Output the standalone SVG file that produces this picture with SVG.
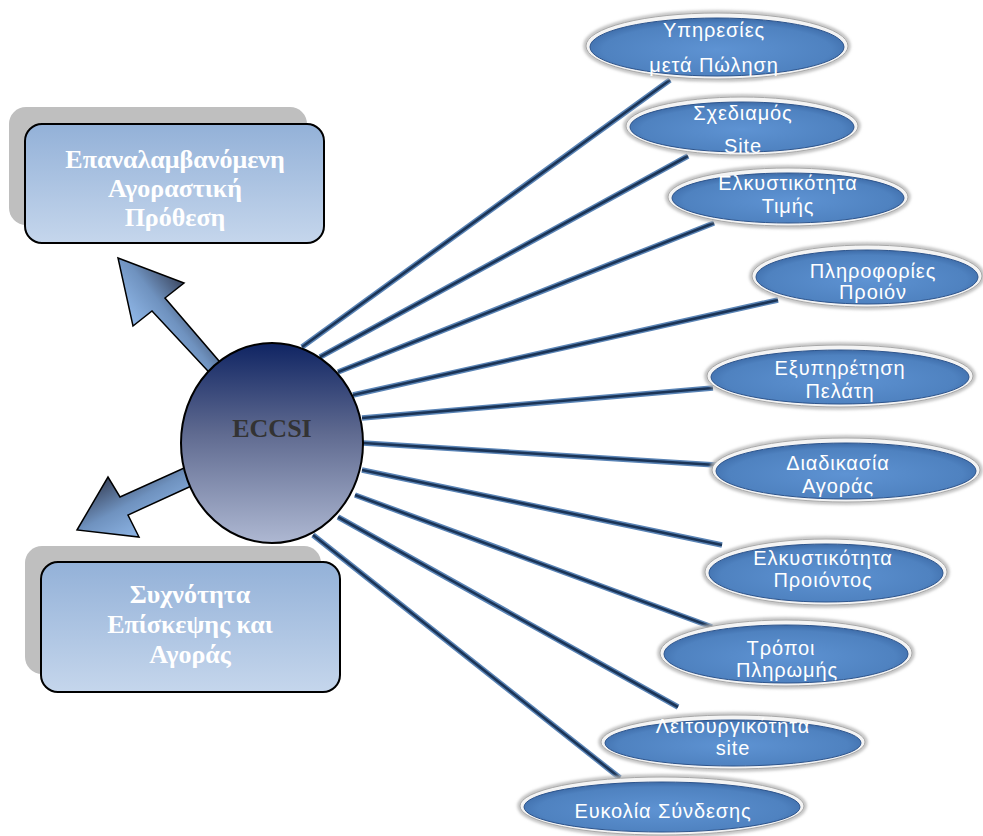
<svg xmlns="http://www.w3.org/2000/svg" width="983" height="836" viewBox="0 0 983 836">
  <defs>
    <linearGradient id="boxFill" x1="0" y1="0" x2="0" y2="1">
      <stop offset="0" stop-color="#93b1d8"/>
      <stop offset="1" stop-color="#c5d6ec"/>
    </linearGradient>
    <linearGradient id="hubFill" x1="0" y1="0" x2="0" y2="1">
      <stop offset="0" stop-color="#0f2463"/>
      <stop offset="0.45" stop-color="#5f6a90"/>
      <stop offset="1" stop-color="#aeb8d2"/>
    </linearGradient>
    <linearGradient id="arrowUp" gradientUnits="userSpaceOnUse" x1="135" y1="322" x2="184" y2="283">
      <stop offset="0" stop-color="#8db4e4"/>
      <stop offset="0.5" stop-color="#6f92bf"/>
      <stop offset="1" stop-color="#3c4862"/>
    </linearGradient>
    <linearGradient id="arrowDown" gradientUnits="userSpaceOnUse" x1="108" y1="478" x2="139" y2="536">
      <stop offset="0" stop-color="#3c4862"/>
      <stop offset="0.5" stop-color="#6f92bf"/>
      <stop offset="1" stop-color="#8db4e4"/>
    </linearGradient>
    <radialGradient id="pillFill" cx="0.5" cy="0.55" r="0.6">
      <stop offset="0" stop-color="#5e93d3"/>
      <stop offset="0.75" stop-color="#4f82c0"/>
      <stop offset="1" stop-color="#34609c"/>
    </radialGradient>
    <filter id="soft" x="-10%" y="-20%" width="120%" height="140%">
      <feGaussianBlur stdDeviation="1.5"/>
    </filter>
    <filter id="lineBlur" x="-5%" y="-5%" width="110%" height="110%">
      <feGaussianBlur stdDeviation="0.6"/>
    </filter>
    <style>
      .shadow { fill: #bfbfbf; }
      .box { fill: url(#boxFill); stroke: #000; stroke-width: 2; }
      .boxText { font-family: "Liberation Serif", "Times New Roman", serif; font-weight: bold; font-size: 26px; fill: #ffffff; text-anchor: middle; }
      .hubText { font-family: "Liberation Serif", "Times New Roman", serif; font-weight: bold; font-size: 26px; fill: #333333; text-anchor: middle; }
      .arrow { stroke: #000; stroke-width: 1.5; stroke-linejoin: miter; }
      .halo { fill: none; stroke: #b5b5b5; stroke-width: 3; filter: url(#soft); }
      .rim { fill: #f4f4f4; stroke: #a8a8a8; stroke-width: 1; }
      .pill { fill: url(#pillFill); stroke: #2d548c; stroke-width: 1; }
      .pillText { font-family: "Liberation Sans", Arial, sans-serif; font-size: 20px; fill: #ffffff; text-anchor: middle; letter-spacing: 0.9px; }
      .spokeOuter { stroke: #5a84b6; stroke-width: 5.5; stroke-linecap: butt; filter: url(#lineBlur); }
      .spokeInner { stroke: #1b3456; stroke-width: 2.6; stroke-linecap: butt; }
    </style>
  </defs>

  <rect width="983" height="836" fill="#ffffff"/>

  <!-- spokes from the hub to each factor -->
  <g id="connectors">
    <g class="spokeOuter">
      <line x1="302" y1="347" x2="670" y2="80"/>
      <line x1="320" y1="357" x2="688" y2="156"/>
      <line x1="338" y1="372" x2="714" y2="223"/>
      <line x1="353" y1="395" x2="778" y2="300"/>
      <line x1="362" y1="418" x2="713" y2="388"/>
      <line x1="363" y1="443" x2="716" y2="465"/>
      <line x1="362" y1="470" x2="722" y2="545"/>
      <line x1="355" y1="495" x2="712" y2="627"/>
      <line x1="338" y1="517" x2="678" y2="707"/>
      <line x1="313" y1="535" x2="620" y2="778"/>
    </g>
    <g class="spokeInner">
      <line x1="302" y1="347" x2="670" y2="80"/>
      <line x1="320" y1="357" x2="688" y2="156"/>
      <line x1="338" y1="372" x2="714" y2="223"/>
      <line x1="353" y1="395" x2="778" y2="300"/>
      <line x1="362" y1="418" x2="713" y2="388"/>
      <line x1="363" y1="443" x2="716" y2="465"/>
      <line x1="362" y1="470" x2="722" y2="545"/>
      <line x1="355" y1="495" x2="712" y2="627"/>
      <line x1="338" y1="517" x2="678" y2="707"/>
      <line x1="313" y1="535" x2="620" y2="778"/>
    </g>
  </g>

  <!-- outcome boxes -->
  <g id="intent">
    <rect class="shadow" x="9" y="107" width="298" height="118" rx="17"/>
    <rect class="box" x="25" y="124" width="299" height="119" rx="17"/>
    <text class="boxText" x="175" y="168">Επαναλαμβανόμενη</text>
    <text class="boxText" x="175" y="197">Αγοραστική</text>
    <text class="boxText" x="175" y="226">Πρόθεση</text>
  </g>

  <g id="frequency">
    <rect class="shadow" x="25" y="546" width="296" height="128" rx="17"/>
    <rect class="box" x="41" y="562" width="299" height="130" rx="17"/>
    <text class="boxText" x="190" y="603">Συχνότητα</text>
    <text class="boxText" x="190" y="633">Επίσκεψης και</text>
    <text class="boxText" x="190" y="663">Αγοράς</text>
  </g>

  <!-- block arrows from the hub -->
  <g id="arrow-intent">
    <polygon class="arrow" fill="url(#arrowUp)" points="118,258 184,283 165,298 231,375 220,384 152,311 133,326"/>
  </g>
  <g id="arrow-frequency">
    <polygon class="arrow" fill="url(#arrowDown)" points="77,530 108,477 120,497 204,459 211,477 128,515 139,537"/>
  </g>

  <!-- hub -->
  <g id="eccsi">
    <ellipse cx="272" cy="443" rx="91" ry="100" fill="url(#hubFill)" stroke="#000" stroke-width="2"/>
    <text class="hubText" x="272" y="437">ECCSI</text>
  </g>

  <!-- factor nodes -->
  <g id="after-sales">
    <ellipse class="halo" cx="717" cy="46" rx="132" ry="34"/>
    <ellipse class="rim" cx="717" cy="46" rx="131" ry="33"/>
    <ellipse class="pill" cx="717" cy="47" rx="127" ry="29"/>
    <text class="pillText" x="714" y="37">Υπηρεσίες</text>
    <text class="pillText" x="714" y="72">μετά Πώληση</text>
  </g>

  <g id="site-design">
    <ellipse class="halo" cx="742" cy="126" rx="117" ry="30"/>
    <ellipse class="rim" cx="742" cy="126" rx="116" ry="29"/>
    <ellipse class="pill" cx="742" cy="127" rx="112" ry="25"/>
    <text class="pillText" x="743" y="120">Σχεδιαμός</text>
    <text class="pillText" x="743" y="153">Site</text>
  </g>

  <g id="price">
    <ellipse class="halo" cx="788" cy="197" rx="121" ry="30"/>
    <ellipse class="rim" cx="788" cy="197" rx="120" ry="29"/>
    <ellipse class="pill" cx="788" cy="198" rx="116" ry="25"/>
    <text class="pillText" x="788" y="190">Ελκυστικότητα</text>
    <text class="pillText" x="788" y="213">Τιμής</text>
  </g>

  <g id="product-info">
    <ellipse class="halo" cx="867" cy="276" rx="116" ry="32"/>
    <ellipse class="rim" cx="867" cy="276" rx="115" ry="31"/>
    <ellipse class="pill" cx="867" cy="277" rx="111" ry="27"/>
    <text class="pillText" x="873" y="278">Πληροφορίες</text>
    <text class="pillText" x="873" y="299">Προιόν</text>
  </g>

  <g id="customer-service">
    <ellipse class="halo" cx="840" cy="376" rx="134" ry="32"/>
    <ellipse class="rim" cx="840" cy="376" rx="133" ry="31"/>
    <ellipse class="pill" cx="840" cy="377" rx="129" ry="27"/>
    <text class="pillText" x="840" y="375">Εξυπηρέτηση</text>
    <text class="pillText" x="840" y="398">Πελάτη</text>
  </g>

  <g id="purchase-process">
    <ellipse class="halo" cx="846" cy="470" rx="135" ry="33"/>
    <ellipse class="rim" cx="846" cy="470" rx="134" ry="32"/>
    <ellipse class="pill" cx="846" cy="471" rx="130" ry="28"/>
    <text class="pillText" x="838" y="470">Διαδικασία</text>
    <text class="pillText" x="838" y="493">Αγοράς</text>
  </g>

  <g id="product-appeal">
    <ellipse class="halo" cx="826" cy="572" rx="122" ry="34"/>
    <ellipse class="rim" cx="826" cy="572" rx="121" ry="33"/>
    <ellipse class="pill" cx="826" cy="573" rx="117" ry="29"/>
    <text class="pillText" x="823" y="565">Ελκυστικότητα</text>
    <text class="pillText" x="823" y="587">Προιόντος</text>
  </g>

  <g id="payment">
    <ellipse class="halo" cx="786" cy="653" rx="127" ry="34"/>
    <ellipse class="rim" cx="786" cy="653" rx="126" ry="33"/>
    <ellipse class="pill" cx="786" cy="654" rx="122" ry="29"/>
    <text class="pillText" x="781" y="655">Τρόποι</text>
    <text class="pillText" x="787" y="677">Πληρωμής</text>
  </g>

  <g id="site-function">
    <ellipse class="halo" cx="733" cy="742" rx="133" ry="28"/>
    <ellipse class="rim" cx="733" cy="742" rx="132" ry="27"/>
    <ellipse class="pill" cx="733" cy="743" rx="128" ry="23"/>
    <text class="pillText" x="733" y="733">Λειτουργικότητα</text>
    <text class="pillText" x="733" y="755">site</text>
  </g>

  <g id="ease-of-login">
    <ellipse class="halo" cx="662" cy="806" rx="143" ry="30"/>
    <ellipse class="rim" cx="662" cy="806" rx="142" ry="29"/>
    <ellipse class="pill" cx="662" cy="807" rx="138" ry="25"/>
    <text class="pillText" x="663" y="818">Ευκολία Σύνδεσης</text>
  </g>
</svg>
